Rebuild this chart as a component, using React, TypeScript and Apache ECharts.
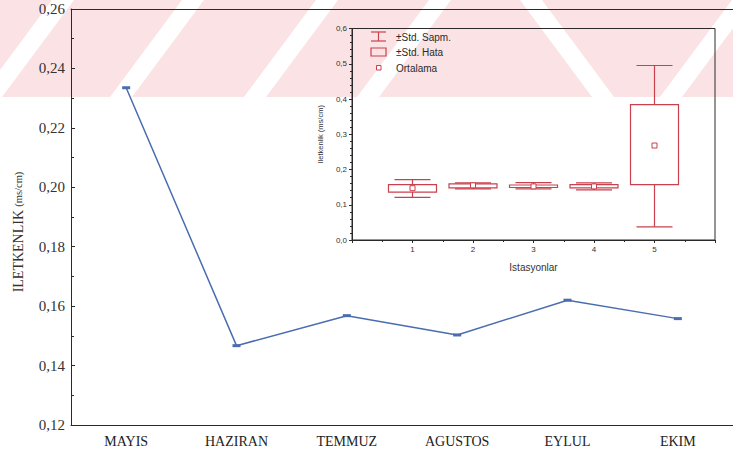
import React, { useEffect, useRef } from "react";
import * as echarts from "echarts";

// Monthly conductivity (line chart)
const months = ["MAYIS", "HAZIRAN", "TEMMUZ", "AGUSTOS", "EYLUL", "EKIM"];
const conductivity = [0.2335, 0.1467, 0.1568, 0.1503, 0.162, 0.1558];

// Station summary (inset box plot)
const stations = [1, 2, 3, 4, 5];
const stationMean = [0.147, 0.155, 0.152, 0.152, 0.268];
const stdErrLow = [0.136, 0.148, 0.149, 0.148, 0.157];
const stdErrHigh = [0.157, 0.159, 0.156, 0.157, 0.384];
const stdDevLow = [0.121, 0.145, 0.145, 0.142, 0.037];
const stdDevHigh = [0.171, 0.162, 0.163, 0.162, 0.495];

const mainYMin = 0.12;
const mainYMax = 0.26;
const mainYStep = 0.02;
const insetYMin = 0;
const insetYMax = 0.6;
const insetYStep = 0.1;

const SERIF = "'Liberation Serif', 'Times New Roman', serif";
const SANS = "'Liberation Sans', Arial, sans-serif";
const BOX_RED = "#c8414c";
const LINE_BLUE = "#4a6db0";
const INK = "#2a2a2a";
const PINK = "#fbe3e5";

const comma = (v: number, d: number) => v.toFixed(d).replace(".", ",");

function stripeUp(x: number) {
  return [[x, 97], [x + 22, 97], [x + 94, 0], [x + 72, 0]];
}
function stripeDown(x: number) {
  return [[x, 0], [x + 22, 0], [x + 94, 97], [x + 72, 97]];
}

export default function App() {
  const ref = useRef<HTMLDivElement>(null);

  useEffect(() => {
    if (!ref.current) return;
    const chart = echarts.init(ref.current, undefined, { renderer: "svg" });

    const boxData = stations.map((s, i) => [
      s,
      stationMean[i],
      stdErrLow[i],
      stdErrHigh[i],
      stdDevLow[i],
      stdDevHigh[i],
    ]);

    const band = (points: number[][]) => ({
      type: "polygon",
      z: -99,
      shape: { points },
      style: { fill: "#ffffff" },
    });

    const watermark: any[] = [
      { type: "rect", z: -100, shape: { x: 0, y: 0, width: 733, height: 97 }, style: { fill: PINK } },
      ...[-20, 110, 244, 357].map((x) => band(stripeUp(x))),
      ...[520].map((x) => band(stripeDown(x))),
      ...[660].map((x) => band(stripeUp(x))),
    ];

    const legendFont = `10px ${SANS}`;
    const legendItems: any[] = [
      // ±Std. Sapm. symbol (I-beam)
      { type: "line", shape: { x1: 371, y1: 32, x2: 386, y2: 32 }, style: { stroke: BOX_RED, lineWidth: 1.2 } },
      { type: "line", shape: { x1: 371, y1: 41, x2: 386, y2: 41 }, style: { stroke: BOX_RED, lineWidth: 1.2 } },
      { type: "line", shape: { x1: 378.5, y1: 32, x2: 378.5, y2: 41 }, style: { stroke: BOX_RED, lineWidth: 1.2 } },
      { type: "text", x: 396, y: 37, style: { text: "±Std. Sapm.", font: legendFont, fill: INK, verticalAlign: "middle" } },
      // ±Std. Hata symbol (box)
      { type: "rect", shape: { x: 371, y: 48, width: 15, height: 8 }, style: { fill: "none", stroke: BOX_RED, lineWidth: 1.2 } },
      { type: "text", x: 396, y: 52.5, style: { text: "±Std. Hata", font: legendFont, fill: INK, verticalAlign: "middle" } },
      // Ortalama symbol (small square)
      { type: "rect", shape: { x: 376.5, y: 65.5, width: 4.5, height: 4.5 }, style: { fill: "#fff", stroke: BOX_RED, lineWidth: 1 } },
      { type: "text", x: 396, y: 68, style: { text: "Ortalama", font: legendFont, fill: INK, verticalAlign: "middle" } },
    ];

    const option: any = {
      animation: false,
      backgroundColor: "#ffffff",
      graphic: [
        ...watermark,
        {
          type: "text",
          x: 18,
          y: 232,
          rotation: Math.PI / 2,
          style: {
            text: "{a|ILETKENLIK} {b|(ms/cm)}",
            align: "center",
            verticalAlign: "middle",
            fill: INK,
            rich: {
              a: { fontFamily: SERIF, fontSize: 14, fill: "#333" },
              b: { fontFamily: SERIF, fontSize: 10.5, fill: "#333" },
            },
          },
        },
        ...legendItems,
      ],
      grid: [
        { left: 71, right: -3, top: 9, bottom: 28 },
        {
          left: 352,
          right: 18,
          top: 28.5,
          bottom: 213,
          show: true,
          borderColor: INK,
          borderWidth: 1,
          backgroundColor: "transparent",
        },
      ],
      xAxis: [
        {
          type: "category",
          gridIndex: 0,
          data: months,
          boundaryGap: true,
          axisLine: { lineStyle: { color: INK, width: 1 } },
          axisTick: { inside: true, alignWithLabel: true, length: 3, lineStyle: { color: INK } },
          axisLabel: { fontFamily: SERIF, fontSize: 14, color: "#222", margin: 9 },
          splitLine: { show: false },
        },
        {
          type: "category",
          gridIndex: 0,
          position: "top",
          data: months,
          boundaryGap: true,
          axisLine: { lineStyle: { color: INK, width: 1 } },
          axisTick: { inside: true, alignWithLabel: true, length: 3, lineStyle: { color: INK } },
          axisLabel: { show: false },
          splitLine: { show: false },
        },
        {
          type: "value",
          gridIndex: 1,
          min: 0,
          max: 6,
          interval: 1,
          axisLine: { lineStyle: { color: INK } },
          axisTick: { show: true, length: 3, lineStyle: { color: INK } },
          axisLabel: {
            fontFamily: SANS,
            fontSize: 8,
            color: "#333",
            margin: 5,
            formatter: (v: number) => (v >= 1 && v <= 5 ? String(v) : ""),
          },
          splitLine: { show: false },
          name: "Istasyonlar",
          nameLocation: "middle",
          nameGap: 22,
          nameTextStyle: { fontFamily: SANS, fontSize: 10, color: "#333" },
        },
        {
          type: "value",
          gridIndex: 1,
          position: "top",
          min: 0,
          max: 6,
          interval: 1,
          axisLine: { lineStyle: { color: INK } },
          axisTick: { inside: true, length: 3, lineStyle: { color: INK } },
          minorTick: { show: true, splitNumber: 2, length: 2, lineStyle: { color: INK } },
          axisLabel: { show: false },
          splitLine: { show: false },
        },
      ],
      yAxis: [
        {
          type: "value",
          gridIndex: 0,
          min: mainYMin,
          max: mainYMax,
          interval: mainYStep,
          axisLine: { show: true, lineStyle: { color: INK, width: 1 } },
          axisTick: { show: true, inside: true, length: 4, lineStyle: { color: INK } },
          minorTick: { show: true, splitNumber: 2, length: 3, lineStyle: { color: INK } },
          axisLabel: {
            fontFamily: SERIF,
            fontSize: 15,
            color: "#333",
            margin: 6,
            formatter: (v: number) => comma(v, 2),
          },
          splitLine: { show: false },
        },
        {
          type: "value",
          gridIndex: 1,
          min: insetYMin,
          max: insetYMax,
          interval: insetYStep,
          axisLine: { show: true, lineStyle: { color: INK } },
          axisTick: { show: true, length: 3, lineStyle: { color: INK } },
          minorTick: { show: true, splitNumber: 5, length: 2, lineStyle: { color: INK } },
          axisLabel: {
            fontFamily: SANS,
            fontSize: 8,
            color: "#333",
            margin: 5,
            formatter: (v: number) => comma(v, 1),
          },
          splitLine: { show: false },
          name: "Iletkenlik (ms/cm)",
          nameLocation: "middle",
          nameGap: 28,
          nameRotate: 90,
          nameTextStyle: { fontFamily: SANS, fontSize: 7.5, color: "#333" },
        },
        {
          type: "value",
          gridIndex: 1,
          position: "right",
          min: insetYMin,
          max: insetYMax,
          interval: insetYStep,
          axisLine: { show: true, lineStyle: { color: INK } },
          axisTick: { show: true, inside: true, length: 3, lineStyle: { color: INK } },
          minorTick: { show: true, splitNumber: 5, length: 2, lineStyle: { color: INK } },
          axisLabel: { show: false },
          splitLine: { show: false },
        },
      ],
      series: [
        {
          type: "line",
          xAxisIndex: 0,
          yAxisIndex: 0,
          data: conductivity,
          symbol: "rect",
          symbolSize: [8, 3],
          lineStyle: { color: LINE_BLUE, width: 1.5 },
          itemStyle: { color: LINE_BLUE },
          z: 5,
        },
        {
          type: "custom",
          xAxisIndex: 2,
          yAxisIndex: 1,
          data: boxData,
          z: 6,
          renderItem: (_params: any, api: any) => {
            const x = api.value(0);
            const [cx, yMean] = api.coord([x, api.value(1)]);
            const ySeLo = api.coord([x, api.value(2)])[1];
            const ySeHi = api.coord([x, api.value(3)])[1];
            const ySdLo = api.coord([x, api.value(4)])[1];
            const ySdHi = api.coord([x, api.value(5)])[1];
            const boxHalf = 24;
            const capHalf = 18;
            const stroke = { stroke: BOX_RED, lineWidth: 1.2, fill: "none" };
            return {
              type: "group",
              children: [
                { type: "line", shape: { x1: cx, y1: ySdHi, x2: cx, y2: ySeHi }, style: stroke },
                { type: "line", shape: { x1: cx, y1: ySeLo, x2: cx, y2: ySdLo }, style: stroke },
                { type: "line", shape: { x1: cx - capHalf, y1: ySdHi, x2: cx + capHalf, y2: ySdHi }, style: stroke },
                { type: "line", shape: { x1: cx - capHalf, y1: ySdLo, x2: cx + capHalf, y2: ySdLo }, style: stroke },
                {
                  type: "rect",
                  shape: { x: cx - boxHalf, y: ySeHi, width: boxHalf * 2, height: Math.max(ySeLo - ySeHi, 1) },
                  style: stroke,
                },
                {
                  type: "rect",
                  shape: { x: cx - 2.5, y: yMean - 2.5, width: 5, height: 5 },
                  style: { stroke: BOX_RED, lineWidth: 1, fill: "#fff" },
                },
              ],
            };
          },
        },
      ],
    };

    chart.setOption(option);
    return () => chart.dispose();
  }, []);

  return (
    <div
      ref={ref}
      style={{ position: "fixed", left: 0, top: 0, width: 733, height: 453 }}
    />
  );
}
